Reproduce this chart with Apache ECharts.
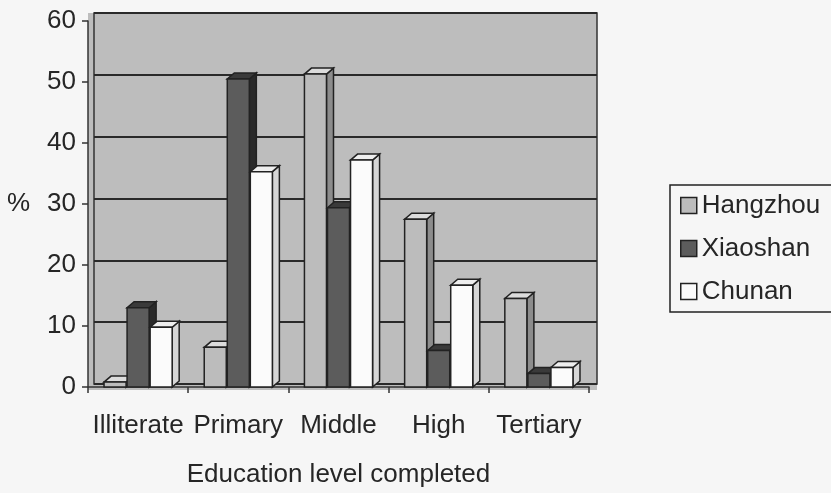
<!DOCTYPE html>
<html>
<head>
<meta charset="utf-8">
<script src="https://cdn.jsdelivr.net/npm/echarts@6/dist/echarts.min.js"></script>
<style>
html,body{margin:0;padding:0;background:#f6f6f6;}
#chart{width:831px;height:493px;}
</style>
</head>
<body>
<div id="chart"></div>
<script>
const categories = ['Illiterate', 'Primary', 'Middle', 'High', 'Tertiary'];
const hangzhou = [0.8, 6.5, 51.3, 27.5, 14.5];
const xiaoshan = [13, 50.5, 29.4, 6, 2.2];
const chunan = [9.8, 35.3, 37.2, 16.7, 3.2];
const yTicks = [0, 10, 20, 30, 40, 50, 60];

const seriesDefs = [
  {name: 'Hangzhou', data: hangzhou, front: '#bcbcbc', top: '#dcdcdc', side: '#8c8c8c'},
  {name: 'Xiaoshan', data: xiaoshan, front: '#5c5c5c', top: '#3a3a3a', side: '#2a2a2a'},
  {name: 'Chunan', data: chunan, front: '#fbfbfb', top: '#eeeeee', side: '#d6d6d6'}
];

function makeRender(idx, d) {
  return function (params, api) {
    const cat = api.value(0), val = api.value(1);
    const base = api.coord([cat, 0]);
    const top = api.coord([cat, val]);
    const band = api.size([1, 0])[0];
    const w = band * 0.22;
    const left = base[0] + band * (-0.34 + 0.23 * idx);
    const dx = band * 0.07, dy = 6;
    const stroke = {stroke: '#222', lineWidth: 1.5};
    return {
      type: 'group',
      children: [
        {type: 'polygon', shape: {points: [[left + w, top[1]], [left + w + dx, top[1] - dy], [left + w + dx, base[1] - dy], [left + w, base[1]]]},
         style: Object.assign({fill: d.side}, stroke)},
        {type: 'polygon', shape: {points: [[left, top[1]], [left + w, top[1]], [left + w + dx, top[1] - dy], [left + dx, top[1] - dy]]},
         style: Object.assign({fill: d.top}, stroke)},
        {type: 'rect', shape: {x: left, y: top[1], width: w, height: base[1] - top[1]},
         style: Object.assign({fill: d.front}, stroke)}
      ]
    };
  };
}

const textColor = '#262626';
const font = 'Liberation Sans, Arial, sans-serif';
const fs = 26;

const chart = echarts.init(document.getElementById('chart'));
chart.setOption({
  backgroundColor: '#f6f6f6',
  animation: false,
  textStyle: {fontFamily: font, color: textColor},
  legend: {
    orient: 'vertical', left: 670, top: 185,
    data: seriesDefs.map(s => s.name),
    icon: 'rect', itemWidth: 16, itemHeight: 16, itemGap: 14,
    padding: [6, 40, 6, 10],
    backgroundColor: '#f6f6f6', borderColor: '#222', borderWidth: 1.5,
    textStyle: {fontSize: fs, color: textColor, fontFamily: font, lineHeight: 29},
    itemStyle: {borderColor: '#222', borderWidth: 1.5}
  },
  grid: [
    {left: 88, right: 234, top: 13, bottom: 103, show: true, backgroundColor: '#bdbdbd', borderWidth: 0},
    {left: 94, right: 234, top: 13, bottom: 109, show: true, backgroundColor: 'transparent', borderColor: '#333', borderWidth: 1.5},
    {left: 88, right: 242, top: 21, bottom: 103}
  ],
  xAxis: [
    {type: 'category', gridIndex: 0, data: categories, show: false},
    {type: 'category', gridIndex: 1, data: categories, show: false},
    {type: 'category', gridIndex: 2, data: categories,
     axisLine: {lineStyle: {color: '#333', width: 1.5}},
     axisTick: {show: true, length: 6, lineStyle: {color: '#333', width: 1.5}},
     axisLabel: {interval: 0, fontSize: fs, color: textColor, margin: 26, fontFamily: font},
     name: 'Education level completed', nameLocation: 'middle', nameGap: 75,
     nameTextStyle: {fontSize: fs, color: textColor, fontFamily: font}}
  ],
  yAxis: [
    {type: 'value', gridIndex: 0, min: 0, max: 60, show: false},
    {type: 'value', gridIndex: 1, min: 0, max: 60, interval: 10,
     axisLine: {show: false}, axisTick: {show: false}, axisLabel: {show: false},
     splitLine: {show: true, lineStyle: {color: '#2a2a2a', width: 2}}},
    {type: 'value', gridIndex: 2, min: yTicks[0], max: yTicks[yTicks.length - 1], interval: 10,
     axisLine: {show: true, lineStyle: {color: '#333', width: 1.5}},
     axisTick: {show: true, length: 6, lineStyle: {color: '#333', width: 1.5}},
     axisLabel: {fontSize: fs, color: textColor, margin: 12, fontFamily: font},
     splitLine: {show: false},
     name: '%', nameLocation: 'middle', nameRotate: 0, nameGap: 58,
     nameTextStyle: {fontSize: fs, color: textColor, fontFamily: font, padding: [10, 0, 0, 0]}}
  ],
  series: seriesDefs.map((d, i) => ({
    type: 'custom', name: d.name, xAxisIndex: 2, yAxisIndex: 2,
    itemStyle: {color: d.front, borderColor: '#222', borderWidth: 1.5},
    renderItem: makeRender(i, d),
    encode: {x: 0, y: 1},
    data: d.data.map((v, k) => [k, v])
  }))
});
</script>
</body>
</html>
